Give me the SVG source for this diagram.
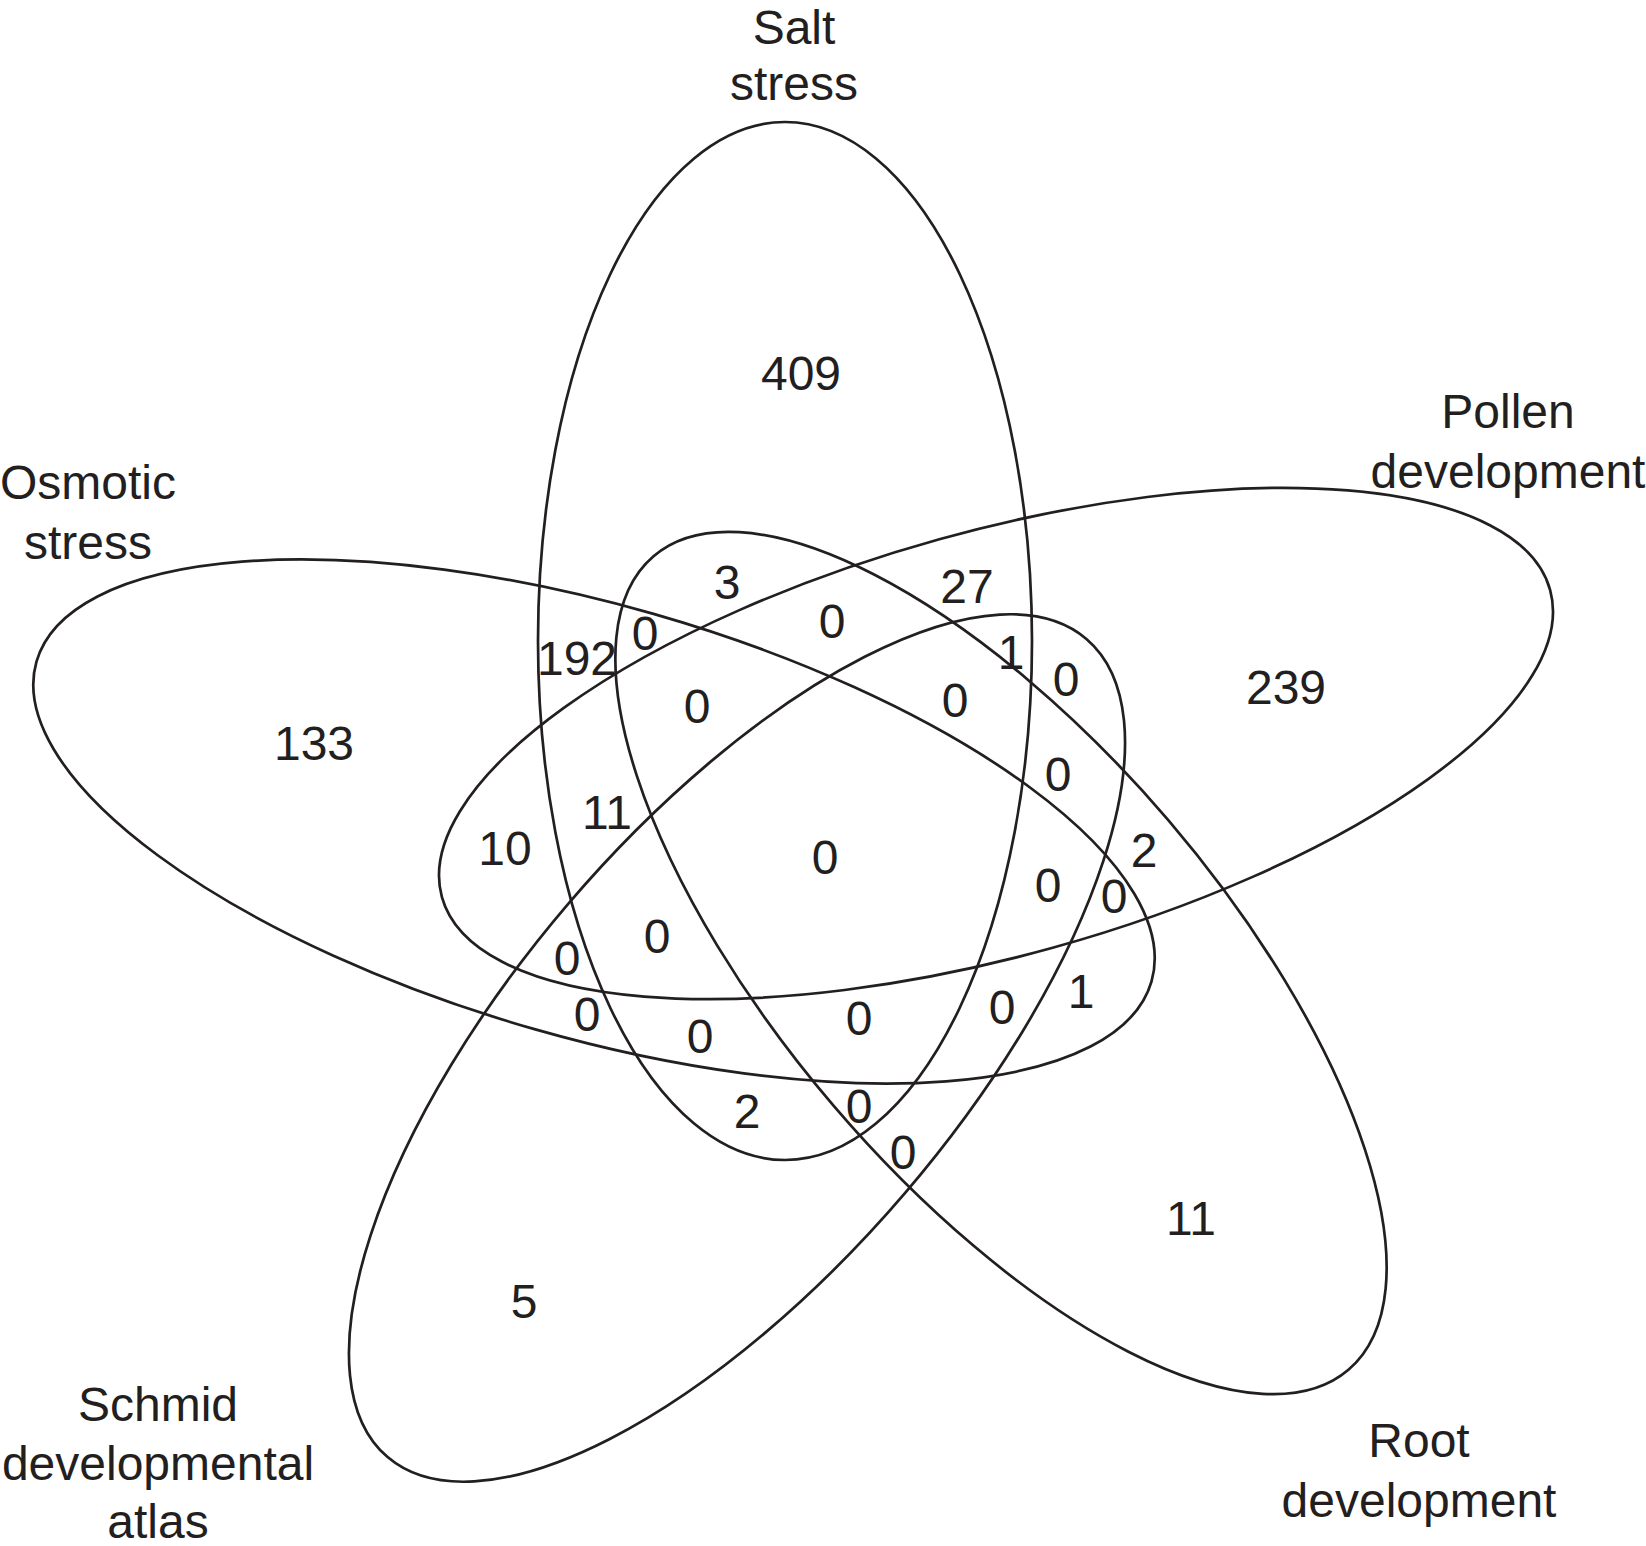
<svg xmlns="http://www.w3.org/2000/svg" width="1646" height="1546" viewBox="0 0 1646 1546">
<style>
.set{fill:none;stroke:#231f20;stroke-width:2.7}
text{font-family:"Liberation Sans",Arial,Helvetica,sans-serif;font-size:48px;fill:#231f20;text-anchor:middle}
</style>
<rect width="1646" height="1546" fill="#ffffff"/>
<g id="set-salt">
<ellipse class="set" cx="785" cy="641" rx="247" ry="519"/>
<text x="794" y="44">Salt</text>
<text x="794" y="100">stress</text>
</g>
<g id="set-pollen">
<ellipse class="set" cx="996" cy="743.5" rx="575" ry="212" transform="rotate(-15.5 996 743.5)"/>
<text x="1508" y="428">Pollen</text>
<text x="1508" y="488">development</text>
</g>
<g id="set-root">
<ellipse class="set" cx="1001" cy="963" rx="535" ry="220" transform="rotate(49.5 1001 963)"/>
<text x="1419" y="1457">Root</text>
<text x="1419" y="1517">development</text>
</g>
<g id="set-schmid">
<ellipse class="set" cx="737" cy="1048" rx="538" ry="222" transform="rotate(-49.5 737 1048)"/>
<text x="158" y="1421">Schmid</text>
<text x="158" y="1480">developmental</text>
<text x="158" y="1538">atlas</text>
</g>
<g id="set-osmotic">
<ellipse class="set" cx="594" cy="821.5" rx="580" ry="216" transform="rotate(16 594 821.5)"/>
<text x="88" y="499">Osmotic</text>
<text x="88" y="559">stress</text>
</g>
<g id="connectors"></g>
<g id="counts">
<text x="801" y="390">409</text>
<text x="1286" y="704">239</text>
<text x="1191" y="1235">11</text>
<text x="524" y="1318">5</text>
<text x="314" y="760">133</text>
<text x="727" y="599">3</text>
<text x="967" y="603">27</text>
<text x="832" y="638">0</text>
<text x="577" y="675">192</text>
<text x="645" y="650">0</text>
<text x="697" y="723">0</text>
<text x="1011" y="669">1</text>
<text x="1066" y="696">0</text>
<text x="955" y="717">0</text>
<text x="1058" y="791">0</text>
<text x="1144" y="867">2</text>
<text x="1048" y="902">0</text>
<text x="1114" y="913">0</text>
<text x="1081" y="1008">1</text>
<text x="1002" y="1024">0</text>
<text x="859" y="1035">0</text>
<text x="700" y="1053">0</text>
<text x="747" y="1128">2</text>
<text x="859" y="1123">0</text>
<text x="903" y="1169">0</text>
<text x="587" y="1031">0</text>
<text x="567" y="975">0</text>
<text x="657" y="953">0</text>
<text x="505" y="865">10</text>
<text x="607" y="829">11</text>
<text x="825" y="874">0</text>
</g>
</svg>
